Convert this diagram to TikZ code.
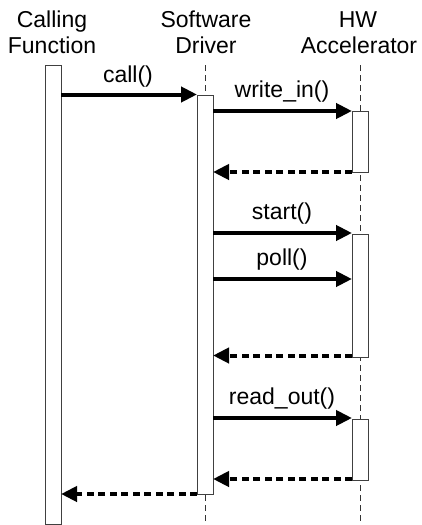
\documentclass[tikz,border=0pt]{standalone}
\usepackage{fontspec}
\setmainfont{Liberation Sans}
\usetikzlibrary{arrows.meta}
\begin{document}
\begin{tikzpicture}[x=1pt,y=-1pt,
  lbl/.style={font=\fontsize{23}{26}\selectfont, inner sep=0pt, anchor=base},
  ttl/.style={font=\fontsize{23}{26}\selectfont, inner sep=0pt, anchor=base, align=center},
  bar/.style={draw=black!75, fill=white, line width=1pt},
  life/.style={draw=black!80, line width=0.9pt, dash pattern=on 6pt off 4pt},
  msg/.style={line width=4pt, -{Triangle[length=16pt,width=15pt]}},
  ret/.style={line width=4pt, dash pattern=on 7pt off 4.5pt, -{Triangle[length=16pt,width=15pt]}}
]
\useasboundingbox (0,0) rectangle (422,525);
% titles
\node[ttl] (t1a) at (52,27) {Calling};
\node[ttl] (t1b) at (52,53) {Function};
\node[ttl] (t2a) at (206,27) {Software};
\node[ttl] (t2b) at (206,53) {Driver};
\node[ttl] (t3a) at (358,27) {HW};
\node[ttl] (t3b) at (359,53) {Accelerator};
% lifelines
\coordinate (sdtop) at (205,65);
\coordinate (sdbot) at (205,525);
\coordinate (hwtop) at (360,65);
\coordinate (hwbot) at (360,525);
\draw[life] (sdtop) -- (sdbot);
\draw[life] (hwtop) -- (hwbot);
% bars
\draw[bar] (45,65) rectangle (61,524.5);
\draw[bar] (197,95) rectangle (213,494);
\draw[bar] (352,111) rectangle (368,172);
\draw[bar] (352,234) rectangle (368,357);
\draw[bar] (352,419) rectangle (368,480);
% message endpoints
\coordinate (c1a) at (61,94.5);  \coordinate (c1b) at (197,94.5);
\coordinate (w1a) at (213,111); \coordinate (w1b) at (352,111);
\coordinate (r1a) at (352,172); \coordinate (r1b) at (213,172);
\coordinate (s1a) at (213,233); \coordinate (s1b) at (352,233);
\coordinate (p1a) at (213,279); \coordinate (p1b) at (352,279);
\coordinate (r2a) at (352,355.5); \coordinate (r2b) at (213,355.5);
\coordinate (o1a) at (213,418); \coordinate (o1b) at (352,418);
\coordinate (r3a) at (352,479); \coordinate (r3b) at (213,479);
\coordinate (r4a) at (197,494); \coordinate (r4b) at (61,494);
% messages
\draw[msg] (c1a) -- (c1b);
\draw[msg] (w1a) -- (w1b);
\draw[ret] (r1a) -- (r1b);
\draw[msg] (s1a) -- (s1b);
\draw[msg] (p1a) -- (p1b);
\draw[ret] (r2a) -- (r2b);
\draw[msg] (o1a) -- (o1b);
\draw[ret] (r3a) -- (r3b);
\draw[ret] (r4a) -- (r4b);
% labels
\node[lbl] (lc) at (128,82) {call()};
\node[lbl] (lw) at (282,97) {write\_in()};
\node[lbl] (ls) at (282,219) {start()};
\node[lbl] (lp) at (282,265) {poll()};
\node[lbl] (lo) at (282,404) {read\_out()};
\end{tikzpicture}
\end{document}
